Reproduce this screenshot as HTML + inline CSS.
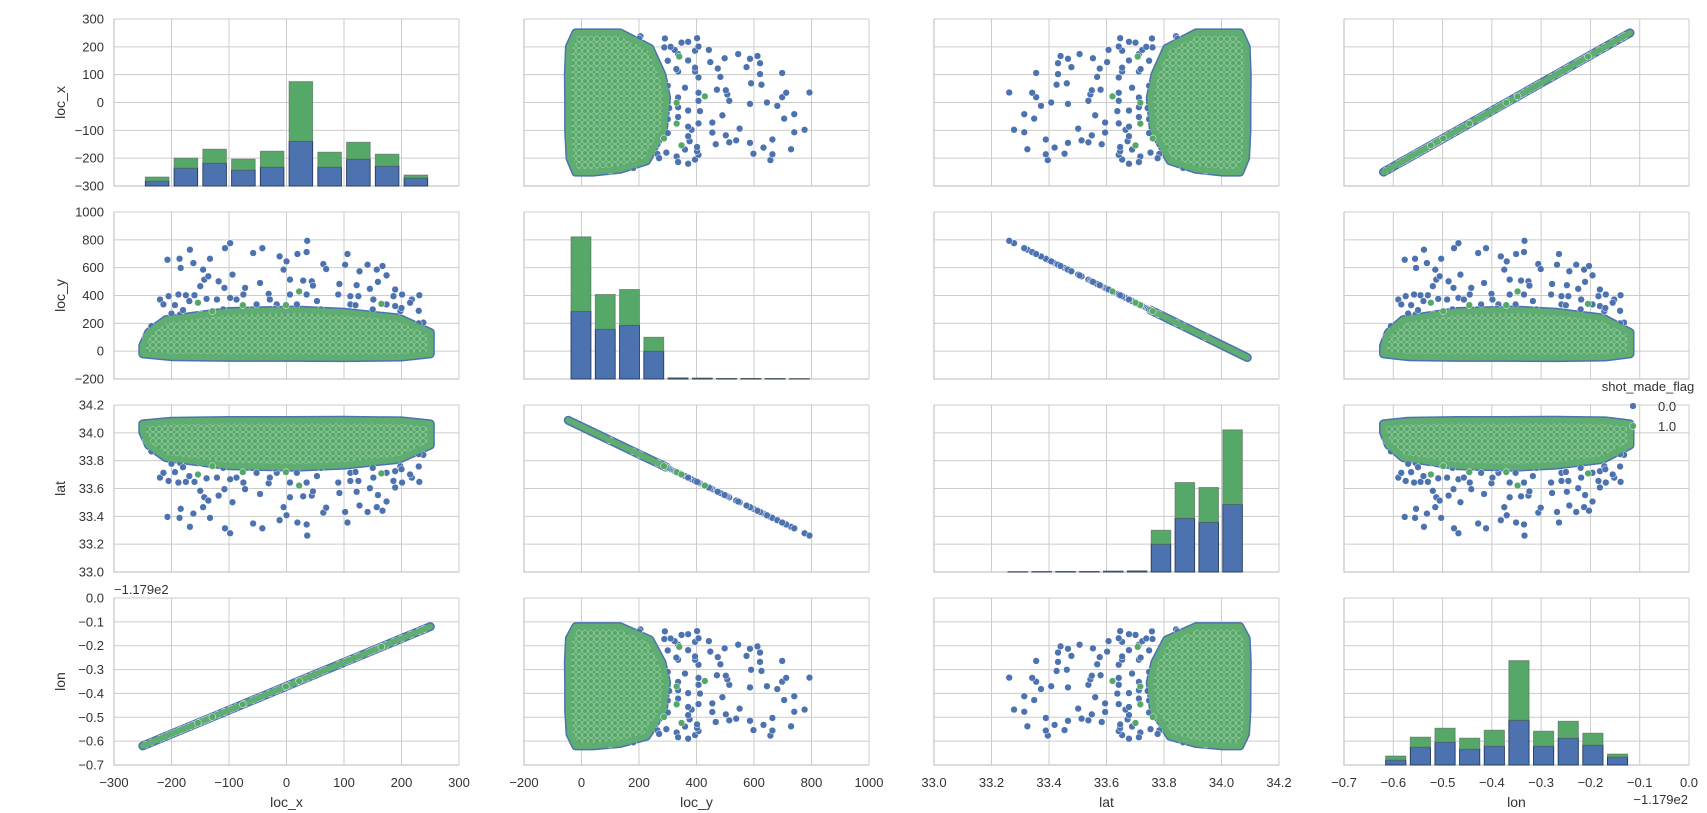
<!DOCTYPE html>
<html><head><meta charset="utf-8"><style>
html,body{margin:0;padding:0;background:#fff;}
svg{display:block;font-family:"Liberation Sans",Arial,sans-serif;}
</style></head><body>
<svg id="fig" width="1707" height="813" viewBox="0 0 1707 813" xmlns="http://www.w3.org/2000/svg">
<defs>
<pattern id="dense" patternUnits="userSpaceOnUse" width="6" height="6">
<rect width="6" height="6" fill="#58a96a"/>
<circle cx="3" cy="3" r="2.6" fill="#55a868" stroke="#a9d5b3" stroke-width="0.6"/>
</pattern>
</defs>
</svg>
<script>
// ---- data ----
// dense core region boundary of shots, in (loc_x, loc_y)
const coreLocX = [-250,-240,-210,-100,16,100,195,250,250,200,100,0,-100,-200,-250];
const coreLocY = [40,134,226,285,296,280,238,134,-20,-42,-46,-45,-45,-40,-20];
// sparse missed shots (blue) outside core
const missLocX = [-207,-186,-168,-162,-184,-145,-133,-107,-98,-58,-42,-12,0,-5,19,35,36,64,69,106,102,141,157,167,127,-143,-136,-118,-94,-150,-108,-72,-46,6,29,44,46,92,122,145,159,174,189,-220,-205,-188,-175,-160,-194,-169,-139,-121,-98,-75,-31,-17,6,35,53,90,111,125,151,186,201,218,231,238,174,189,-214,-185,-150,-87,18,198,215,111,-29,-52,230,200,150,120,60,-20,-60,-110,-180,-200,230,-235,240,-245];
const missLocY = [657,664,729,633,598,586,664,740,776,705,740,681,645,586,698,712,793,626,590,698,621,621,586,612,574,514,538,502,550,467,455,455,490,514,507,502,471,483,474,448,498,545,443,371,395,407,402,402,331,360,376,371,383,407,412,336,407,407,360,407,395,395,371,395,407,371,402,205,336,324,336,264,264,371,336,288,348,336,371,336,290,310,300,330,300,305,300,300,295,270,200,180,100,100];
// sparse made shots (green) outside core
const madeLocX = [165,22,-1,-76,-129,-154];
const madeLocY = [340,429,331,331,287,348];
// histogram counts per bin (missed / made)
const locxEdges0 = -250, locxBin = 50;
const locxMiss = [200,720,920,640,760,1800,760,1080,800,320];
const locxMade = [160,400,560,440,640,2400,600,680,480,120];
const locyEdges0 = -44, locyBin = 84.4;
const locyMiss = [2720,2000,2160,1120,40,30,20,20,15,10];
const locyMade = [3000,1400,1440,560,5,2,2,1,1,1];
const latEdges0 = 33.25, latBin = 0.083;
const latMiss = [10,15,20,20,30,40,1120,2160,2000,2720];
const latMade = [1,1,1,2,2,5,560,1440,1400,3000];
const lonEdges0 = -0.62, lonBin = 0.05;
const lonMiss = [200,720,920,640,760,1800,760,1080,800,320];
const lonMade = [160,400,560,440,640,2400,600,680,480,120];
// axis ticks
const ticksLocX = [-300,-200,-100,0,100,200,300];
const ticksLocY = [-200,0,200,400,600,800,1000];
const ticksLat = [33.0,33.2,33.4,33.6,33.8,34.0,34.2];
const ticksLon = [-0.7,-0.6,-0.5,-0.4,-0.3,-0.2,-0.1,0.0];
const varNames = ["loc_x","loc_y","lat","lon"];

// ---- layout ----
const NS="http://www.w3.org/2000/svg";
const svg=document.getElementById('fig');
const colX=[114,524,934,1344], rowY=[19,212,405,598], PW=345, PH=167;
const domains=[[-300,300],[-200,1000],[33,34.2],[-0.7,0]];
const ticks=[ticksLocX,ticksLocY,ticksLat,ticksLon];
const decimals=[0,0,1,1];
const histMax=6720;
const BLUE="#4c72b0", GREEN="#55a868";
function el(tag,attrs,parent){const e=document.createElementNS(NS,tag);for(const k in attrs)e.setAttribute(k,attrs[k]);(parent||svg).appendChild(e);return e;}
function sx(c,v){const d=domains[c];return colX[c]+(v-d[0])/(d[1]-d[0])*PW;}
function sy(r,v){const d=domains[r];return rowY[r]+PH-(v-d[0])/(d[1]-d[0])*PH;}
function vars(lx,ly){return [lx,ly,34.0443-ly*0.000987,-0.3698+lx*0.001];}
function fmt(v,d){return v.toFixed(d).replace('-','\u2212');}

for(let r=0;r<4;r++)for(let c=0;c<4;c++){
  const g=el('g',{});
  
  
  ticks[c].forEach(t=>{const x=sx(c,t);const l=el('line',{x1:x,x2:x,y1:rowY[r],y2:rowY[r]+PH,stroke:'#cccccc','stroke-width':1},g);
    });
  ticks[r].forEach(t=>{const y=sy(r,t);const l=el('line',{x1:colX[c],x2:colX[c]+PW,y1:y,y2:y,stroke:'#cccccc','stroke-width':1},g);
    });
  const ax=el('path',{d:`M${colX[c]},${rowY[r]}V${rowY[r]+PH}H${colX[c]+PW}`,fill:'none',stroke:'#c8c8c8','stroke-width':1.3},g);
  
  if(r===c) drawHist(r,g); else drawScatter(r,c,g);
}
function drawHist(k,g){
  const e0=[locxEdges0,locyEdges0,latEdges0,lonEdges0][k], bw=[locxBin,locyBin,latBin,lonBin][k];
  const miss=[locxMiss,locyMiss,latMiss,lonMiss][k], made=[locxMade,locyMade,latMade,lonMade][k];
  const base=rowY[k]+PH, s=PH/histMax;
  miss.forEach((m,i)=>{
    const x0=sx(k,e0+bw*(i+0.09)), x1=sx(k,e0+bw*(i+0.91));
    const hb=m*s, hg=made[i]*s;
    const b=el('rect',{x:x0,y:base-hb,width:x1-x0,height:hb,fill:BLUE,stroke:'#253a5e','stroke-width':0.9},g);
    
    const gr=el('rect',{x:x0,y:base-hb-hg,width:x1-x0,height:hg,fill:GREEN,stroke:'#5d6b5f','stroke-width':0.9,'stroke-opacity':0.7},g);
    
  });
}
function drawScatter(r,c,g){
  let d='';
  coreLocX.forEach((lx,i)=>{const v=vars(lx,coreLocY[i]);d+=(i?'L':'M')+sx(c,v[c]).toFixed(1)+','+sy(r,v[r]).toFixed(1);});
  d+='Z';
  const cb=el('path',{d:d,fill:BLUE,stroke:BLUE,'stroke-width':9,'stroke-linejoin':'round','stroke-linecap':'round'},g);
  
  missLocX.forEach((lx,i)=>{const v=vars(lx,missLocY[i]);
    const p=el('circle',{cx:sx(c,v[c]),cy:sy(r,v[r]),r:3.4,fill:BLUE,stroke:'#ffffff','stroke-width':0.5},g);
    });
  const cg=el('path',{d:d,fill:'url(#dense)',stroke:'#60ad72','stroke-width':6,'stroke-linejoin':'round','stroke-linecap':'round'},g);
  
  madeLocX.forEach((lx,i)=>{const v=vars(lx,madeLocY[i]);
    const p=el('circle',{cx:sx(c,v[c]),cy:sy(r,v[r]),r:3.4,fill:GREEN,stroke:'#ffffff','stroke-width':0.5},g);
    });
}
for(let r=0;r<4;r++){ticks[r].forEach(t=>{
  const tx=el('text',{x:104,y:sy(r,t)+4.5,'text-anchor':'end','font-size':13,fill:'#333'});
  tx.textContent=fmt(t,decimals[r]);
  });
  const yl=el('text',{x:0,y:0,'text-anchor':'middle','font-size':14,fill:'#333',transform:`translate(65,${rowY[r]+PH/2}) rotate(-90)`});
  yl.textContent=varNames[r];
  
}
for(let c=0;c<4;c++){ticks[c].forEach(t=>{
  const tx=el('text',{x:sx(c,t),y:787,'text-anchor':'middle','font-size':13,fill:'#333'});
  tx.textContent=fmt(t,decimals[c]);
  });
  const xl=el('text',{x:colX[c]+PW/2,y:807,'text-anchor':'middle','font-size':14,fill:'#333'});
  xl.textContent=varNames[c];
  
}
const o1=el('text',{x:114,y:594,'font-size':13,fill:'#333'});o1.textContent='\u22121.179e2';

const o2=el('text',{x:1688,y:804,'text-anchor':'end','font-size':13,fill:'#333'});o2.textContent='\u22121.179e2';

const lg=el('g',{});

const lt=el('text',{x:1648,y:391,'text-anchor':'middle','font-size':13,fill:'#333'},lg);lt.textContent='shot_made_flag';

[['0.0',BLUE,406],['1.0',GREEN,426]].forEach(e=>{
  const c=el('circle',{cx:1633,cy:e[2],r:3.4,fill:e[1],stroke:'#fff','stroke-width':0.5},lg);
  
  const t=el('text',{x:1658,y:e[2]+5,'font-size':13,fill:'#333'},lg);t.textContent=e[0];
  
});
</script>
</body></html>
